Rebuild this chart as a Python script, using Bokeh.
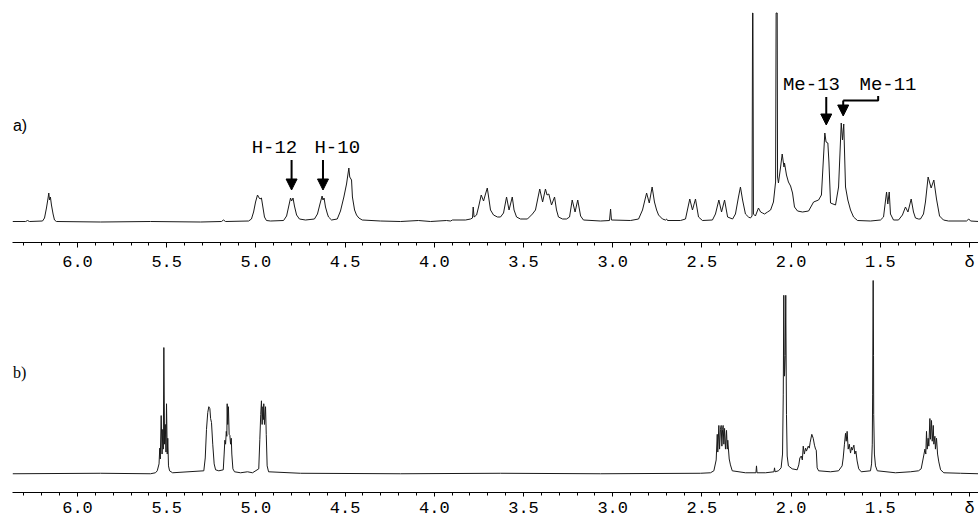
from bokeh.plotting import figure
from bokeh.layouts import column
from bokeh.models import Range1d, FixedTicker, Arrow, NormalHead, PrintfTickFormatter
from bokeh.core.properties import value
from bokeh.embed import file_html
from bokeh.resources import INLINE

# ---------------- data: spectrum a (shift in ppm, intensity) ----------------
shift_a = [
    6.364, 6.291, 6.280, 6.269,
    6.196, 6.185, 6.174, 6.165, 6.161, 6.157, 6.152, 6.146, 6.137, 6.129, 6.118,
    5.871, 5.591, 5.311, 5.193, 5.182, 5.170, 5.041,
    5.025, 5.013, 5.002, 4.991, 4.985, 4.977, 4.969, 4.960, 4.952, 4.941, 4.918,
    4.845, 4.828, 4.817, 4.806, 4.800, 4.792, 4.784, 4.772, 4.756, 4.722,
    4.672, 4.655, 4.641, 4.629, 4.624, 4.618, 4.610, 4.599, 4.593, 4.576,
    4.544, 4.526, 4.507, 4.492, 4.479, 4.474, 4.464, 4.459, 4.447, 4.436, 4.423, 4.404,
    4.302, 4.189, 4.089, 4.021, 3.932, 3.909, 3.898, 3.825, 3.797,
    3.786, 3.782, 3.777, 3.763,
    3.752, 3.737, 3.724, 3.713, 3.703, 3.693, 3.685, 3.668, 3.646, 3.629,
    3.612, 3.595, 3.581, 3.563, 3.553, 3.539, 3.517, 3.478,
    3.450, 3.433, 3.409, 3.393, 3.377, 3.368, 3.358, 3.343, 3.326, 3.315, 3.304, 3.281, 3.259,
    3.242, 3.227, 3.211, 3.196, 3.180, 3.164,
    3.068, 3.018, 3.012, 3.007, 2.900, 2.855,
    2.833, 2.810, 2.795, 2.779, 2.766, 2.754, 2.743, 2.721, 2.704, 2.698, 2.693,
    2.620, 2.592, 2.568, 2.553, 2.536, 2.519, 2.497,
    2.441, 2.424, 2.405, 2.390, 2.373, 2.356, 2.328,
    2.312, 2.295, 2.284, 2.272, 2.256, 2.239, 2.228,
    2.219, 2.216, 2.214, 2.211, 2.200, 2.183, 2.171, 2.160, 2.149, 2.132, 2.115,
    2.099, 2.087, 2.084, 2.078, 2.076, 2.071, 2.059, 2.050, 2.040, 2.037, 2.026, 2.015,
    2.003, 1.992, 1.981, 1.964, 1.936, 1.902, 1.874, 1.846, 1.830,
    1.811, 1.804, 1.794, 1.788, 1.779, 1.751, 1.734,
    1.719, 1.712, 1.705, 1.695, 1.682, 1.667, 1.650, 1.628,
    1.555, 1.499, 1.482, 1.465, 1.458, 1.450, 1.443, 1.426,
    1.398, 1.376, 1.359, 1.345, 1.327, 1.314, 1.303, 1.286,
    1.275, 1.258, 1.247, 1.232, 1.215, 1.200, 1.185, 1.168, 1.146, 1.118,
    1.017, 1.004, 0.994, 0.949,
]
intensity_a = [
    0.5, 0.5, 1.5, 0.5,
    1, 4, 14, 24, 29, 22, 25, 17, 8, 2, 0.5,
    0, 0.5, 0, 0.5, 2, 0.5, 1,
    3, 10, 20, 27, 25, 23, 24, 14, 5, 1.5, 1,
    1.5, 6, 15, 24, 21, 24, 16, 7, 3, 2,
    3, 8, 18, 26, 22, 24, 15, 8, 5, 2,
    3, 11, 25, 38, 54, 45, 42, 25, 12, 7, 4, 2,
    1, 0.5, 1.5, 0.5, 1.5, 1, 2, 2, 3,
    4, 15, 5, 7,
    15, 27, 21, 28, 34, 22, 12, 7, 5, 5,
    9, 25, 12, 25, 12, 5, 3, 3,
    8, 12, 33, 20, 33, 27, 28, 17, 25, 12, 5, 3, 3,
    5, 22, 10, 22, 6, 2,
    1, 1.5, 13, 2, 1.5, 3,
    12, 29, 19, 35, 20, 12, 7, 3, 2, 3, 1.5,
    1.5, 3, 23, 12, 23, 5, 1.5,
    2, 8, 22, 10, 22, 5, 3,
    8, 25, 35, 22, 8, 5, 4,
    6, 209, 209, 8, 6, 14, 10, 9, 8, 10, 12,
    20, 40, 209, 209, 45, 39, 55, 68, 55, 59, 47, 40,
    36, 29, 15, 11, 10, 11, 20, 22, 27,
    89, 80, 79, 60, 19, 17, 35,
    99, 82, 98, 35, 22, 12, 5, 1.5,
    1, 2, 5, 30, 18, 30, 8, 2,
    2, 7, 15, 10, 23, 10, 4, 3,
    3, 8, 20, 45, 34, 42, 23, 6, 2, 1,
    1, 3, 1, 0.5,
]

# ---------------- data: spectrum b ----------------
shift_b = [
    6.364, 5.871, 5.591, 5.563,
    5.553, 5.543, 5.539, 5.536, 5.531, 5.526, 5.522, 5.519, 5.516, 5.512, 5.508, 5.504, 5.501, 5.497, 5.494, 5.490, 5.484, 5.467,
    5.292, 5.284, 5.277, 5.270, 5.264, 5.258, 5.254, 5.249, 5.242, 5.234, 5.226, 5.208,
    5.183, 5.178, 5.174, 5.170, 5.166, 5.163, 5.161, 5.158, 5.154, 5.150, 5.146, 5.142, 5.138, 5.135, 5.129, 5.120,
    5.086, 5.047, 5.019,
    4.984, 4.978, 4.973, 4.969, 4.965, 4.961, 4.957, 4.956, 4.952, 4.946, 4.942, 4.937, 4.929,
    4.750, 4.189, 3.629, 3.068, 2.508, 2.452,
    2.433, 2.420, 2.414, 2.411, 2.405, 2.401, 2.396, 2.392, 2.388, 2.384, 2.381, 2.377, 2.373, 2.368, 2.362, 2.358, 2.355, 2.347, 2.340, 2.330,
    2.256, 2.197, 2.194, 2.191, 2.143, 2.096, 2.093, 2.090, 2.071,
    2.056, 2.048, 2.044, 2.041, 2.039, 2.037, 2.033, 2.030, 2.026, 2.022, 2.015, 1.994, 1.966,
    1.957, 1.951, 1.943, 1.937, 1.932, 1.926, 1.919, 1.914, 1.904, 1.898, 1.893, 1.884, 1.876, 1.869, 1.863, 1.859, 1.854, 1.846,
    1.779, 1.734,
    1.714, 1.708, 1.701, 1.695, 1.691, 1.686, 1.680, 1.674, 1.667, 1.661, 1.657, 1.652, 1.648, 1.643, 1.637, 1.630, 1.621, 1.607,
    1.555, 1.549, 1.545, 1.543, 1.540, 1.538, 1.537, 1.533, 1.527, 1.517,
    1.415, 1.331, 1.286,
    1.271, 1.256, 1.250, 1.245, 1.241, 1.237, 1.232, 1.228, 1.222, 1.219, 1.213, 1.209, 1.203, 1.200, 1.194, 1.191, 1.185, 1.179, 1.172, 1.162, 1.144,
    1.050, 0.949,
]
intensity_b = [
    0, 0.5, 0, 1,
    3, 10, 26, 15, 59, 20, 45, 25, 128, 30, 50, 22, 71, 20, 36, 8, 3, 1,
    3, 16, 45, 62, 68, 66, 56, 52, 30, 10, 4, 3,
    4, 20, 34, 30, 43, 38, 71, 50, 68, 40, 39, 30, 36, 20, 5, 2,
    1, 2, 1,
    5, 35, 60, 74, 50, 68, 55, 71, 50, 68, 40, 8, 2,
    0.5, 0, 0.5, 0, 0.5, 1,
    3, 14, 40, 22, 49, 25, 45, 49, 28, 45, 49, 30, 46, 25, 44, 25, 34, 15, 9, 3,
    1, 1, 8, 1, 1, 2, 6, 2, 3,
    6, 20, 80, 181, 120, 99, 120, 181, 60, 18, 8, 5, 4,
    9, 16, 18, 14, 28, 20, 26, 23, 28, 26, 32, 40, 36, 29, 25, 24, 6, 3,
    2, 3,
    8, 16, 30, 41, 33, 43, 25, 30, 21, 27, 24, 27, 29, 20, 23, 13, 5, 2,
    3, 10, 30, 80, 202, 120, 60, 20, 8, 3,
    1, 2, 3,
    5, 19, 25, 20, 43, 25, 36, 28, 56, 35, 54, 33, 49, 30, 38, 25, 36, 20, 12, 4, 1,
    0.5, 0,
]

# axis ticks (ppm)
major_ticks = [1.0, 1.5, 2.0, 2.5, 3.0, 3.5, 4.0, 4.5, 5.0, 5.5, 6.0]
minor_ticks = [round(1.0 + 0.1 * i, 1) for i in range(54)]

# assignments in spectrum a
assign_labels = ["H-12", "H-10", "Me-13", "Me-11"]
assign_shifts = [4.800, 4.624, 1.803, 1.708]

MONO = "Liberation Mono"
X0, X1 = 6.3644, 0.9496


def make_fig(height, ymin, ymax, border_bottom, tick_out, standoff):
    p = figure(width=978, height=height,
               x_range=Range1d(X0, X1), y_range=Range1d(ymin, ymax),
               output_backend="svg", toolbar_location=None,
               y_axis_location=None,
               min_border_left=12, min_border_right=0, min_border_top=0,
               min_border_bottom=border_bottom)
    p.grid.visible = False
    p.outline_line_color = None
    p.background_fill_color = "white"
    p.border_fill_color = "white"
    ax = p.xaxis[0]
    ax.ticker = FixedTicker(ticks=major_ticks, minor_ticks=minor_ticks)
    ax.formatter = PrintfTickFormatter(format="%.1f")
    ax.major_label_overrides = {1: "δ"}
    ax.axis_line_color = "black"
    ax.axis_line_width = 1
    ax.major_tick_in = 0
    ax.major_tick_out = tick_out
    ax.minor_tick_in = 0
    ax.minor_tick_out = 3
    ax.major_tick_line_color = "black"
    ax.minor_tick_line_color = "black"
    ax.major_label_text_font = MONO
    ax.major_label_text_font_size = "17px"
    ax.major_label_text_line_height = 1.0
    ax.major_label_text_color = "black"
    ax.major_label_standoff = standoff
    return p


# ---------------- panel a ----------------
pa = make_fig(280, -20.5, 221.5, 38, 5, 5)
pa.line(shift_a, intensity_a, line_color="#1a1a1a", line_width=1)

pa.text(x=[6.362], y=[97], text=["a)"], text_font=value("Liberation Sans"),
        text_font_size="16px", text_align="left", text_baseline="middle", text_color="black")

# H-12 / H-10 labels and arrows
pa.text(x=[4.896, 4.544], y=[74, 74], text=assign_labels[:2], text_font=value(MONO),
        text_font_size="19px", text_align="center", text_baseline="middle", text_color="black")
for s in assign_shifts[:2]:
    pa.add_layout(Arrow(end=NormalHead(size=11, fill_color="black", line_color="black"),
                        x_start=s, y_start=62, x_end=s, y_end=32,
                        line_width=2, line_color="black"))

# Me-13 / Me-11 labels and arrows
pa.text(x=[1.886, 1.457], y=[137, 137], text=assign_labels[2:], text_font=value(MONO),
        text_font_size="19px", text_align="center", text_baseline="middle", text_color="black")
pa.add_layout(Arrow(end=NormalHead(size=11, fill_color="black", line_color="black"),
                    x_start=assign_shifts[2], y_start=125, x_end=assign_shifts[2], y_end=97,
                    line_width=2, line_color="black"))
pa.line([1.512, 1.512, assign_shifts[3]], [126, 121.5, 121.5], line_color="black", line_width=2)
pa.add_layout(Arrow(end=NormalHead(size=11, fill_color="black", line_color="black"),
                    x_start=assign_shifts[3], y_start=121.5, x_end=assign_shifts[3], y_end=106,
                    line_width=2, line_color="black"))

# ---------------- panel b ----------------
pb = make_fig(240, -19, 196, 25, 4, 2)
pb.line(shift_b, intensity_b, line_color="#1a1a1a", line_width=1)
pb.text(x=[6.362], y=[103], text=["b)"], text_font=value("Liberation Serif"),
        text_font_size="16px", text_align="left", text_baseline="middle", text_color="black")

layout = column(pa, pb, spacing=0)
open("out.html", "w").write(file_html(layout, INLINE))
